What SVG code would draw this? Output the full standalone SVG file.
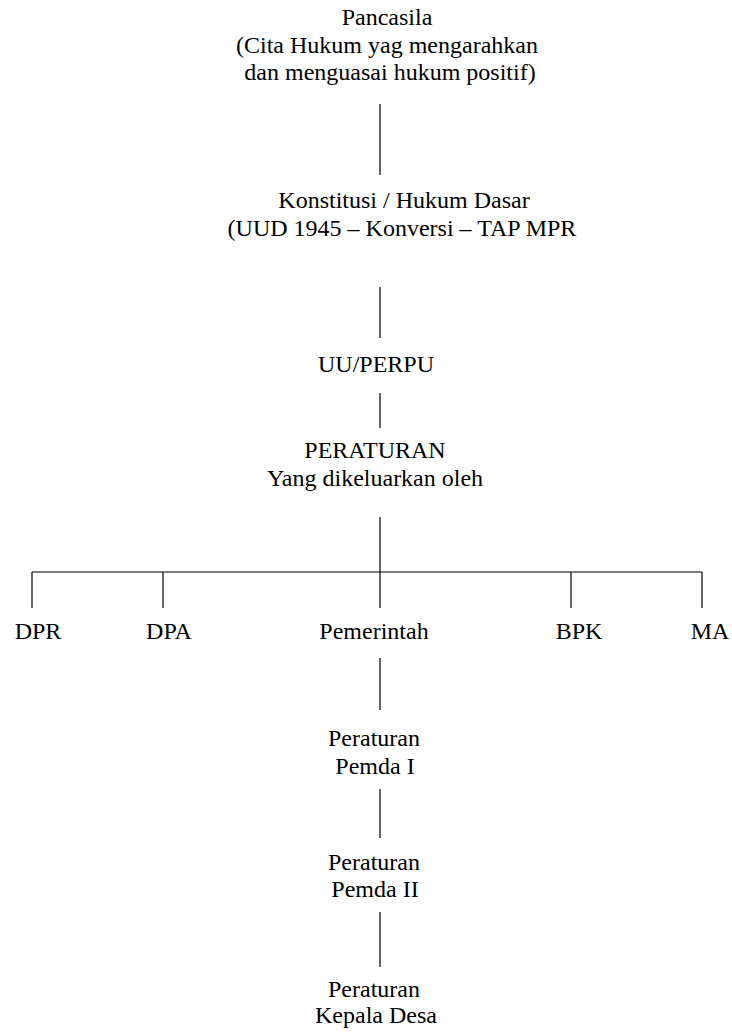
<svg xmlns="http://www.w3.org/2000/svg" width="732" height="1032" viewBox="0 0 732 1032">
<rect width="732" height="1032" fill="#fff"/>
<g id="connectors" stroke="#000" stroke-width="1.2">
<line x1="380" y1="104" x2="380" y2="175"/>
<line x1="380" y1="287" x2="380" y2="338"/>
<line x1="380" y1="393" x2="380" y2="428"/>
<line x1="380" y1="517" x2="380" y2="608"/>
<line x1="32" y1="572" x2="702" y2="572"/>
<line x1="32" y1="572" x2="32" y2="608"/>
<line x1="163" y1="572" x2="163" y2="608"/>
<line x1="571" y1="572" x2="571" y2="608"/>
<line x1="702" y1="572" x2="702" y2="608"/>
<line x1="380" y1="658" x2="380" y2="710"/>
<line x1="380" y1="789" x2="380" y2="838"/>
<line x1="380" y1="912" x2="380" y2="967"/>
</g>
<g font-family="'Liberation Serif', serif" font-size="24" text-anchor="middle" fill="#000">
<g id="pancasila"><text x="387" y="25">Pancasila</text><text x="387" y="53">(Cita Hukum yag mengarahkan</text><text x="390" y="80">dan menguasai hukum positif)</text></g>
<g id="konstitusi"><text x="404" y="208">Konstitusi / Hukum Dasar</text><text x="402" y="236">(UUD 1945 &#8211; Konversi &#8211; TAP MPR</text></g>
<g id="uu"><text x="376" y="372">UU/PERPU</text></g>
<g id="peraturan"><text x="375" y="458">PERATURAN</text><text x="375" y="486">Yang dikeluarkan oleh</text></g>
<g id="dpr"><text x="38" y="639">DPR</text></g>
<g id="dpa"><text x="169" y="639">DPA</text></g>
<g id="pemerintah"><text x="374" y="639">Pemerintah</text></g>
<g id="bpk"><text x="579" y="639">BPK</text></g>
<g id="ma"><text x="710" y="639">MA</text></g>
<g id="pemda1"><text x="374" y="746">Peraturan</text><text x="375" y="774">Pemda I</text></g>
<g id="pemda2"><text x="374" y="870">Peraturan</text><text x="375" y="897">Pemda II</text></g>
<g id="desa"><text x="374" y="997">Peraturan</text><text x="376" y="1023">Kepala Desa</text></g>
</g>
</svg>
